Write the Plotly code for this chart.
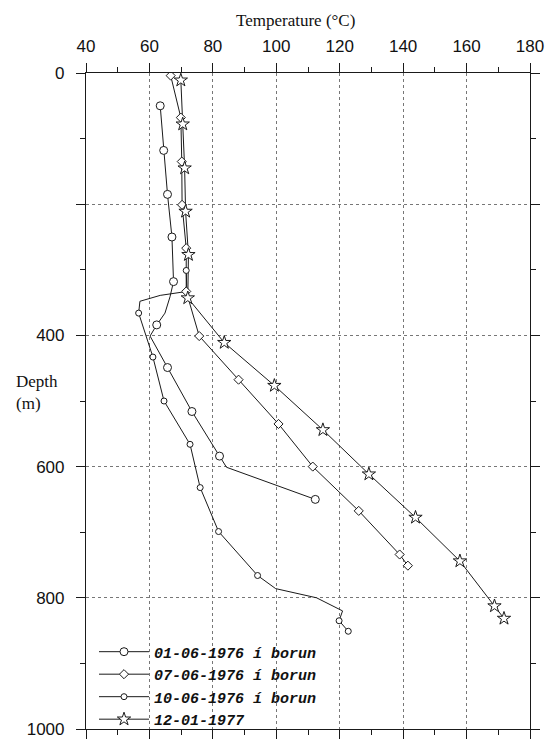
import plotly.graph_objects as go

# ---- data ----
x_ticks = [40, 60, 80, 100, 120, 140, 160, 180]
y_tickvals = [0, 200, 400, 600, 800, 1000]
y_ticktext = ["0", "", "400", "600", "800", "1000"]

names = ["01-06-1976 í borun", "07-06-1976 í borun", "10-06-1976 í borun", "12-01-1977"]

# 01-06-1976 (large circles); measured flags mark real data points (others are curve vertices)
a_temp = [63.4, 64.5, 65.7, 67.1, 67.6, 66.5, 64.9, 62.3, 60.2, 65.7, 73.4, 82.1, 84.3, 112.3]
a_depth = [50, 118, 185, 250, 318, 341, 366, 384, 401, 449, 516, 584, 601, 650]
a_meas = [1, 1, 1, 1, 1, 0, 0, 1, 0, 1, 1, 1, 0, 1]

# 07-06-1976 (diamonds)
b_temp = [66.7, 69.9, 70.2, 70.3, 71.6, 71.6, 75.7, 88.1, 100.7, 111.5, 126.0, 138.9, 141.5]
b_depth = [4, 68, 135, 201, 267, 333, 401, 467.5, 535, 600, 667.5, 734, 751]
b_meas = [1] * len(b_temp)

# 10-06-1976 (small circles)
c_temp = [71.6, 71.8, 63.4, 57.0, 56.6, 61.1, 64.6, 72.8, 76.0, 81.8, 94.1, 99.8, 112.7, 120.9, 119.8, 122.7]
c_depth = [301, 333, 339, 348, 366, 433, 500, 566, 632, 699, 766, 786, 800, 820, 835, 851]
c_meas = [1, 0, 0, 0, 1, 1, 1, 1, 1, 1, 1, 0, 0, 0, 1, 1]

# 12-01-1977 (stars)
d_temp = [69.9, 70.5, 71.1, 71.4, 72.3, 72.1, 83.6, 99.4, 114.7, 129.2, 143.9, 157.9, 168.8, 171.8]
d_depth = [11, 78, 145, 211, 277, 343, 411, 476.5, 544, 611.5, 677.5, 744, 812.5, 831.5]
d_meas = [1] * len(d_temp)

series = [
    (a_temp, a_depth, a_meas, "circle", 8),
    (b_temp, b_depth, b_meas, "diamond", 7),
    (c_temp, c_depth, c_meas, "circle", 6),
    (d_temp, d_depth, d_meas, "star", 10),
]

INK = "#1a1a1a"
fig = go.Figure()

# lines first
for (t, d, m, sym, sz) in series:
    fig.add_trace(go.Scatter(x=t, y=d, mode="lines", showlegend=False,
                             line=dict(color=INK, width=1), hoverinfo="skip"))
# markers on top
for (t, d, m, sym, sz) in series:
    xs = [v for v, f in zip(t, m) if f]
    ys = [v for v, f in zip(d, m) if f]
    fig.add_trace(go.Scatter(x=xs, y=ys, mode="markers", showlegend=False,
                             marker=dict(symbol=sym, size=sz, color="white",
                                         line=dict(color=INK, width=1))))
# legend entries
for name, (t, d, m, sym, sz) in zip(names, series):
    fig.add_trace(go.Scatter(x=[None], y=[None], mode="lines+markers", name=name,
                             line=dict(color=INK, width=1),
                             marker=dict(symbol=sym, size=sz, color="white",
                                         line=dict(color=INK, width=1))))

W, H = 550, 745
L, R, T, B = 86, 20, 73, 6
pw, ph = W - L - R, H - T - B

def px(xp):
    return (xp - L) / pw

def py(yp):
    return (H - B - yp) / ph

axis_common = dict(showline=True, linecolor=INK, linewidth=1.2, mirror="allticks",
                   ticks="outside", ticklen=9, tickcolor=INK, tickwidth=1.2,
                   showgrid=True, gridcolor="#777", gridwidth=1, griddash="dot",
                   zeroline=False,
                   tickfont=dict(family="Liberation Sans, Arial", size=17, color="#111"))

fig.update_xaxes(range=[40, 180], side="top", tickvals=x_ticks,
                 minor=dict(dtick=10, tick0=40, ticks="outside", ticklen=5,
                            tickcolor=INK, showgrid=False),
                 ticklabelstandoff=4, **axis_common)
fig.update_yaxes(range=[1000, 0], tickvals=y_tickvals, ticktext=y_ticktext,
                 minor=dict(dtick=100, tick0=0, ticks="outside", ticklen=5,
                            tickcolor=INK, showgrid=False),
                 ticklabelstandoff=8, **axis_common)

serif = dict(family="Liberation Serif, Times New Roman", size=17, color="#111")
fig.add_annotation(text="Temperature (°C)", xref="paper", yref="paper",
                   x=px(295), y=py(20), xanchor="center", yanchor="middle",
                   showarrow=False, font=serif)
fig.add_annotation(text="Depth<br>(m)", xref="paper", yref="paper",
                   x=px(14), y=py(397), xanchor="left", yanchor="middle", align="left",
                   showarrow=False, font=serif)

fig.update_layout(
    width=W, height=H, margin=dict(l=L, r=R, t=T, b=B),
    paper_bgcolor="white", plot_bgcolor="white",
    legend=dict(x=px(94), y=py(644), xanchor="left", yanchor="top",
                bgcolor="rgba(0,0,0,0)", borderwidth=0, itemwidth=50,
                font=dict(family="Liberation Mono, Courier New, monospace", size=15,
                          color="#111", weight="bold", style="italic")),
)

fig.write_html("out.html")
